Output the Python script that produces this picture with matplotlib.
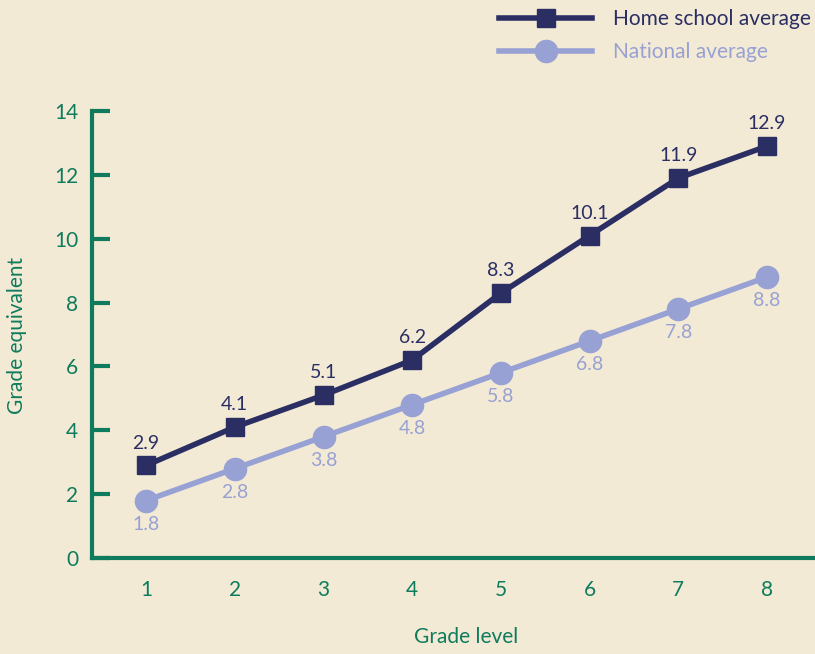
import numpy as np
import matplotlib
matplotlib.use("Agg")
import matplotlib.pyplot as plt
from matplotlib.lines import Line2D

grades = [1, 2, 3, 4, 5, 6, 7, 8]
home_school = [2.9, 4.1, 5.1, 6.2, 8.3, 10.1, 11.9, 12.9]
national = [1.8, 2.8, 3.8, 4.8, 5.8, 6.8, 7.8, 8.8]
y_ticks = [0, 2, 4, 6, 8, 10, 12, 14]

bg = "#F3EAD6"
navy = "#2B2E63"
lilac = "#98A1D3"
green = "#0E7C5C"

plt.rcParams['font.family'] = ['Lato', 'DejaVu Sans']

fig = plt.figure(figsize=(8.15, 6.54), dpi=100, facecolor=bg)
ax = fig.add_axes([92/815, 96/654, 1 - 92/815, 447/654])
ax.set_facecolor(bg)

ax.plot(grades, home_school, '-', color=navy, lw=4, marker='s', ms=13, zorder=3)
ax.plot(grades, national, '-', color=lilac, lw=4, marker='o', ms=16, zorder=2)

for x, y in zip(grades, home_school):
    ax.annotate(f"{y}", (x, y), xytext=(0, 10), textcoords='offset points',
                ha='center', va='bottom', color=navy, fontsize=14)
for x, y in zip(grades, national):
    ax.annotate(f"{y}", (x, y), xytext=(0, -11), textcoords='offset points',
                ha='center', va='top', color=lilac, fontsize=14)

ax.set_xlim(0.39, 8.54)
ax.set_ylim(0, 14)
ax.set_xticks(grades)
ax.set_yticks(y_ticks)
for s in ['top', 'right']:
    ax.spines[s].set_visible(False)
for s in ['left', 'bottom']:
    ax.spines[s].set_color(green)
    ax.spines[s].set_linewidth(3)
ax.tick_params(axis='y', direction='in', length=13, width=3, color=green,
               labelcolor=green, labelsize=15, pad=10)
ax.tick_params(axis='x', length=0, labelcolor=green, labelsize=15, pad=16)

fig.text(466/815, 1 - 637/654, "Grade level", color=green, fontsize=15,
         ha='center', va='center')
fig.text(17/815, 1 - 335/654, "Grade equivalent", color=green, fontsize=15,
         ha='center', va='center', rotation=90)

handles = [
    Line2D([], [], color=navy, lw=4, marker='s', ms=13),
    Line2D([], [], color=lilac, lw=4, marker='o', ms=16),
]
leg = fig.legend(handles, ["Home school average", "National average"],
                 loc='upper right', bbox_to_anchor=(1.0, 0.992), frameon=False,
                 fontsize=15, handlelength=4.45, handletextpad=1.0,
                 labelspacing=0.6, borderaxespad=0.2, borderpad=0.0)
leg.get_texts()[0].set_color(navy)
leg.get_texts()[1].set_color(lilac)

fig.savefig("out.png", dpi=100, facecolor=bg)
